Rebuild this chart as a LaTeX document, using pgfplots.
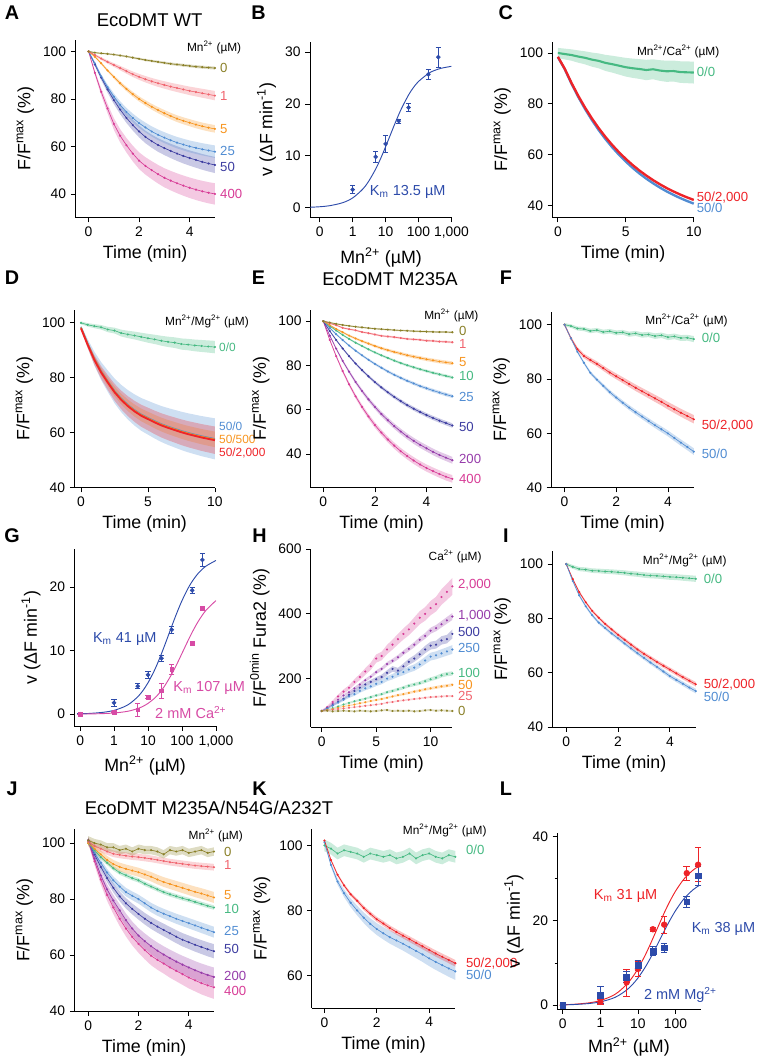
\documentclass[border=0pt]{standalone}
\usepackage{pgfplots}
\pgfplotsset{compat=1.18}
\usepackage{pgfplotstable}
\usepgfplotslibrary{fillbetween}
\usepackage{fontspec}
\setmainfont{Liberation Sans}

\definecolor{cOl}{RGB}{138,128,40}
\definecolor{cSa}{RGB}{240,100,110}
\definecolor{cOr}{RGB}{247,148,30}
\definecolor{cGr}{RGB}{70,185,130}
\definecolor{cLb}{RGB}{80,140,210}
\definecolor{cIn}{RGB}{60,60,160}
\definecolor{cPu}{RGB}{150,60,170}
\definecolor{cMa}{RGB}{215,60,150}
\definecolor{cRe}{RGB}{238,35,40}
\definecolor{cFb}{RGB}{45,75,170}
\definecolor{cFm}{RGB}{215,75,165}

\newcommand{\ftick}{\fontsize{10.5}{12}\selectfont}
\newcommand{\flab}{\fontsize{13.5}{15}\selectfont}
\newcommand{\ftitle}{\fontsize{14}{16}\selectfont}
\newcommand{\fletter}{\fontsize{15}{17}\selectfont\bfseries}
\newcommand{\fcurve}{\fontsize{10}{11}\selectfont}
\newcommand{\fhead}{\fontsize{9}{10}\selectfont}
\newcommand{\fkm}{\fontsize{11}{12}\selectfont}

\pgfplotsset{
  pan/.style={scale only axis, anchor=south west, axis lines=left,
    axis line style={-, line width=0.6pt}, tick style={black, line width=0.6pt},
    tick align=outside, major tick length=3.5pt, minor tick length=2pt,
    tick label style={font=\ftick}, label style={font=\flab},
    /pgf/number format/assume math mode=true, clip=false},
  tr/.style={line width=0.5pt, mark=*, mark size=0.55pt},
  trH/.style={only marks, mark=*, mark size=0.6pt},
  trC/.style={line width=1.8pt},
  trD/.style={line width=1.1pt},
}
\tikzset{fc/.style={anchor=west, font=\fcurve, inner sep=0pt},
         fh/.style={anchor=east, font=\fhead, inner sep=0pt}}

% band + trace: table, column, colour, constant error, error per unit of change, id, style
\newcommand{\trace}[7]{%
  \addplot[draw=none, name path=#6u, forget plot] table[x=t, y expr=\thisrow{#2}+#4+#5*abs(\thisrow{#2}-100)]{#1};
  \addplot[draw=none, name path=#6l, forget plot] table[x=t, y expr=\thisrow{#2}-#4-#5*abs(\thisrow{#2}-100)]{#1};
  \addplot[fill=#3, fill opacity=0.28, draw=none, forget plot] fill between[of=#6u and #6l];
  \addplot[#3, #7, forget plot] table[x=t, y=#2]{#1};}

\pgfplotstableread{
t a0 a1 a5 a25 a50 a400
0 100 100 100 100 100 100
0.25 99.5 98.5 97.8 95 94.5 91
0.5 99.2 97 95 89.5 89 83
0.75 99 95.6 92 85 84 76
1 98.7 94.3 89.3 81 79.5 69.5
1.25 98.3 93 86.6 77.5 75.5 64.5
1.5 97.9 91.7 84.2 74.5 72 60.5
1.75 97.4 90.4 82 72 69 57
2 96.9 89.3 80 69.8 66.3 54
2.25 96.4 88.3 78.3 68 64 51.8
2.5 96 87.4 76.7 66.3 62.2 50
2.75 95.6 86.6 75.3 64.9 60.6 48.3
3 95.2 85.9 74 63.7 59.3 46.8
3.25 94.8 85.2 72.8 62.6 58.1 45.6
3.5 94.5 84.6 71.7 61.6 57 44.5
3.75 94.2 84 70.8 60.8 56 43.5
4 93.9 83.4 70 60 55.1 42.6
4.25 93.6 82.9 69.2 59.4 54.3 41.8
4.5 93.4 82.4 68.5 58.8 53.5 41.1
4.75 93.2 81.9 67.9 58.3 52.8 40.5
5 93 81.4 67.4 57.8 52.2 40
}\tA

\pgfplotstableread{
x y e
1 3.5 0.8
5 9.8 1.0
10 12.3 1.6
25 16.7 0.4
50 19.3 0.8
200 25.7 1.0
400 29.0 1.9
}\tBp
\pgfplotstableread{
x y
0.05 0.102
0.1 0.203
0.2 0.403
0.5 0.986
1 1.903
2 3.561
3 5.018
5 7.459
7 9.424
10 11.745
15 14.526
20 16.478
30 19.034
50 21.732
70 23.138
100 24.317
200 25.855
300 26.411
500 26.874
1000 27.232
}\tBf

\pgfplotstableread{
t g b r
0 100 98.4 98.5
0.5 99.6 93.69 93.84
1 99.2 87.95 88.24
1.5 98.6 82.72 83.14
2 98.1 77.96 78.50
2.5 97.4 73.65 74.29
3 96.9 69.71 70.45
3.5 96.1 66.14 66.97
4 95.6 62.89 63.80
4.5 95.0 59.94 60.92
5 94.4 57.26 58.30
5.5 94.0 54.82 55.92
6 93.7 52.59 53.75
6.5 93.3 50.57 51.78
7 93.6 48.74 49.99
7.5 93.1 47.07 48.36
8 92.8 45.54 46.87
8.5 92.9 44.17 45.53
9 92.5 42.91 44.30
9.5 92.4 41.77 43.19
10 92.3 40.72 42.17
}\tC

\pgfplotstableread{
t g b o r
0 100 98.5 98.3 98
0.5 99.3 92.5 92.3 92
1 98.8 87 86.8 86.5
1.5 98.4 82.5 82.3 82
2 97.6 78.8 78.6 78.3
2.5 97.2 75.3 75.1 74.8
3 96.3 72.5 72.3 72
3.5 95.8 70.2 70 69.7
4 95.4 68.3 68.1 67.8
4.5 94.9 66.7 66.5 66.2
5 94.4 65.5 65.3 65
5.5 94 64.3 64.1 63.8
6 93.5 63.2 63 62.7
6.5 93.1 62.3 62.1 61.8
7 92.8 61.5 61.3 61
7.5 92.3 60.7 60.5 60.2
8 92.1 60 59.8 59.5
8.5 91.8 59.4 59.2 58.9
9 91.6 58.8 58.6 58.3
9.5 91.4 58.3 58.1 57.8
10 91.2 57.8 57.6 57.3
}\tD

\pgfplotstableread{
t e0 e1 e5 e10 e25 e50 e200 e400
0 100 100 100 100 100 100 100 100
0.25 99.4 99.0 98.2 97.8 97.0 95.6 93.5 91.6
0.5 98.8 98.2 96.5 95.8 94.1 91.5 87.6 84.2
0.75 98.3 97.0 95.0 93.8 91.5 87.7 82.1 77.5
1 97.9 96.4 93.5 92.0 89.0 84.2 77.2 71.5
1.25 97.5 95.9 92.2 90.3 86.7 80.9 72.6 66.1
1.5 97.2 95.1 91.0 88.8 84.6 77.9 68.5 61.3
1.75 96.9 94.6 89.9 87.3 82.6 75.1 64.7 57.0
2 96.6 94.0 88.8 85.9 80.7 72.5 61.3 53.1
2.25 96.4 93.4 87.8 84.6 79.0 70.1 58.1 49.7
2.5 96.2 93.1 86.9 83.4 77.3 67.9 55.3 46.6
2.75 96.0 92.8 86.1 82.2 75.8 65.8 52.6 43.8
3 95.8 92.4 85.4 81.1 74.4 63.9 50.2 41.3
3.25 95.7 92.0 84.6 80.1 73.1 62.1 48.0 39.1
3.5 95.5 91.8 84.0 79.2 71.9 60.5 46.0 37.1
3.75 95.4 91.6 83.4 78.3 70.7 59.0 44.2 35.3
4 95.3 91.2 82.8 77.5 69.7 57.6 42.6 33.7
4.25 95.2 91.1 82.3 76.7 68.7 56.3 41.0 32.3
4.5 95.1 90.8 81.8 76.0 67.8 55.1 39.6 31.0
4.75 95.1 90.7 81.4 75.3 66.9 54.0 38.4 29.8
5 95.0 90.5 81.0 74.6 66.1 52.9 37.2 28.8
}\tE

\pgfplotstableread{
t g r b
0 100 100 100
0.25 99.5 95 95
0.5 98.6 91 90
0.75 98.4 88.5 86
1 97.7 87 82.3
1.25 98.0 85.6 79.8
1.5 97.3 84 77.5
1.75 97.6 82.4 75.2
2 97.0 81 73.2
2.25 97.2 79.6 71.3
2.5 96.5 78.2 69.5
2.75 96.8 76.8 67.8
3 96.2 75.5 66.2
3.25 96.4 74.2 64.6
3.5 95.8 72.9 63
3.75 96.1 71.6 61.5
4 95.4 70.2 60
4.25 95.7 68.9 58.3
4.5 95.1 67.6 56.6
4.75 95.2 66.4 55
5 94.7 65.2 53.3
}\tF

\pgfplotstableread{
x y e
0.1 0 0.1
1 1.8 0.6
5 4.4 0.4
10 6.2 0.5
25 8.8 0.5
50 13.3 0.5
200 19.5 0.5
400 24.3 1.0
}\tGb
\pgfplotstableread{
x y e
0.1 0 0
1 0.3 0.1
5 0.7 1.0
10 2.7 0.2
25 3.7 1.2
50 7.1 0.8
200 11.1 0.3
400 16.7 0.2
}\tGm
\pgfplotstableread{
x b m
0.1 0.0613 0.0185
0.2 0.122 0.037
0.5 0.304 0.092
1 0.6 0.183
2 1.172 0.363
3 1.718 0.54
5 2.739 0.884
7 3.675 1.216
10 4.941 1.692
15 6.75 2.434
20 8.262 3.118
30 10.648 4.336
50 13.846 6.306
70 15.892 7.831
100 17.872 9.565
150 19.791 11.556
200 20.913 12.899
300 22.17 14.594
500 23.29 16.310
1000 24.207 17.886
}\tGf

\pgfplotstableread{
t h0 h25 h50 h100 h250 h500 h1000 h2000
0 100 100 100 100 100 100 100 100
0.5 101 102 103 104 108 108 110 112
1 99 104 106 109 117 118 122 128
1.5 100 106 110 114 126 128 135 145
2 101 108 114 120 135 138 148 160
2.5 100 110 117 125 145 150 158 172
3 99 112 120 130 152 162 170 190
3.5 101 114 124 134 162 172 182 205
4 100 116 127 138 170 182 195 222
4.5 99 118 131 143 176 190 206 238
5 100 120 134 148 184 198 220 262
5.5 102 122 137 152 190 205 230 270
6 103 126 141 158 200 218 245 290
6.5 100 128 145 162 206 230 255 305
7 101 131 149 167 214 225 266 322
7.5 100 133 152 172 220 238 280 338
8 101 135 156 178 228 252 292 352
8.5 99 137 160 182 234 262 305 370
9 100 139 163 186 244 275 320 388
9.5 102 141 167 192 256 290 332 400
10 103 143 170 198 268 302 348 418
10.5 101 144 173 203 272 305 356 430
11 102 145 176 210 278 318 368 452
11.5 101 146 178 214 284 322 380 468
12 100 146 181 216 290 338 392 485
}\tH

\pgfplotstableread{
t g r b
0 100 100 100
0.25 99 94.5 93.8
0.5 98.2 89.7 88.5
0.75 98 86 84.5
1 97.6 82.8 81.2
1.25 97.5 80.3 78.5
1.5 97.3 78 76.5
1.75 97.2 76 74.5
2 97 74 72.7
2.25 96.8 72.2 70.8
2.5 96.5 70.4 69
2.75 96.3 68.6 67.2
3 96 67 65.5
3.25 95.8 65.5 63.8
3.5 95.7 64 62.2
3.75 95.5 62.6 60.5
4 95.3 61.2 58.8
4.25 95.2 59.8 57.4
4.5 95 58.4 56
4.75 94.8 57.1 54.6
5 94.6 55.8 53.3
}\tI

\pgfplotstableread{
t j0 j1 j5 j10 j25 j50 j200 j400
0 101 100.5 100 100 100.5 101 101 101
0.25 100 99 98 97.5 96.5 96 94.5 93.5
0.5 99.5 98 96 95 93 91.5 88.5 87
0.75 98.5 97 94 93 89.5 87.5 83.5 81.5
1 98.5 96.2 92.5 91 86.7 84 79.5 77
1.25 97.5 95.8 91.5 89.5 84.5 81 76 73
1.5 98 95.5 90.8 88.5 82.5 78.5 72.5 69.5
1.75 97 95.2 90.2 87.5 81.2 76.5 69.5 66.5
2 98 95 89.6 86.7 80 74.7 67 64
2.25 97.5 94.7 88.8 85.5 78.5 73 65 61.8
2.5 97.5 94.4 88 84.5 77 71.5 63.2 59.8
2.75 97 94 87 83.5 75.8 70.2 61.6 58.3
3 96 93.6 86.1 82.5 74.8 69 60.2 57
3.25 97.5 93.2 85.4 81.7 73.9 67.8 58.9 55.6
3.5 97 92.9 84.7 81 73 66.6 57.7 54.4
3.75 97.5 92.6 84 80.3 72.2 65.5 56.6 53.2
4 96.5 92.3 83.3 79.7 71.4 64.6 55.6 52
4.25 97 92 82.6 79 70.6 63.7 54.6 51
4.5 97.5 91.8 82 78.3 69.8 62.9 53.7 50
4.75 96.5 91.6 81.3 77.6 69 62.1 52.9 49.2
5 97 91.4 80.6 77 68.2 61.4 52.2 48.5
}\tJ

\pgfplotstableread{
t g r b
0 100 101.5 101
0.25 99 95.5 94
0.5 97.5 91 88.9
0.75 98.5 87.7 85.3
1 98 85 82.4
1.25 97.5 83 80
1.5 96.5 80.8 77.8
1.75 97.5 79 75.9
2 97 77.3 74.3
2.25 96.5 76 73
2.5 97 74.6 71.8
2.75 96 73.4 70.8
3 96.5 72.3 69.8
3.25 97.5 71.2 68.7
3.5 96 70.1 67.6
3.75 97 69 66.5
4 97.5 67.9 65.3
4.25 96.5 66.8 64.2
4.5 96 65.8 63.2
4.75 97 64.8 62.2
5 96.5 63.8 61.3
}\tK

\pgfplotstableread{
x y e
0.1 0 0
1 0.8 0.5
5 5.4 3.2
10 8.6 1.8
25 18.0 0.5
50 19.1 2.0
200 31.3 1.6
400 33.3 4.0
}\tLr
\pgfplotstableread{
x y e
0.1 0 0
1 2.4 2.0
5 6.6 1.3
10 9.5 1.2
25 12.8 1.1
50 13.6 1.0
200 24.5 1.3
400 30.7 2.3
}\tLb
\pgfplotstableread{
x r b
0.1 0.114 0.0811
0.2 0.227 0.162
0.5 0.562 0.401
1 1.106 0.792
2 2.145 1.545
3 3.124 2.261
5 4.917 3.593
7 6.521 4.807
10 8.634 6.438
15 11.543 8.745
20 13.882 10.655
30 17.410 13.632
50 21.852 17.557
70 24.535 20.028
100 27.023 22.391
150 29.337 24.654
200 30.649 25.966
300 32.085 27.426
420 32.967 28.336
}\tLf

\begin{document}
\begin{tikzpicture}
\path (0pt,0pt) rectangle (563.25pt,-795.75pt);

% panel letters and titles, placed in pixel units of the reference
\begin{scope}[x=0.75pt, y=-0.75pt]
\foreach \l/\px/\py in {A/8/13, B/257/13, C/507/13, D/8/281, E/257/281, F/507/281,
                        G/8/541, H/258/541, I/507/541, J/8/797, K/258/797, L/507/797}
  \node[font=\fletter] at (\px,\py) {\l};
\node[font=\ftitle] at (147,20) {EcoDMT WT};
\node[font=\ftitle] at (390,282) {EcoDMT M235A};
\node[font=\ftitle] at (207,817) {EcoDMT M235A/N54G/A232T};
\end{scope}

% A
\begin{axis}[pan, at={(54pt,-165pt)}, width=105.75pt, height=135pt,
  xmin=-0.52, xmax=5, ymin=30, ymax=105, xtick={0,2,4}, ytick={40,60,80,100},
  xlabel={Time (min)}, ylabel={F/F\textsuperscript{max} (\%)}]
\trace{\tA}{a400}{cMa}{0.3}{0.07}{A6}{tr}
\trace{\tA}{a50}{cIn}{0.3}{0.065}{A5}{tr}
\trace{\tA}{a25}{cLb}{0.3}{0.055}{A4}{tr}
\trace{\tA}{a5}{cOr}{0.3}{0.04}{A3}{tr}
\trace{\tA}{a1}{cSa}{0.3}{0.09}{A2}{tr}
\trace{\tA}{a0}{cOl}{0.3}{0.05}{A1}{tr}
\node[fc,text=cOl] at (axis cs:5.2,93) {0};
\node[fc,text=cSa] at (axis cs:5.2,81.2) {1};
\node[fc,text=cOr] at (axis cs:5.2,67.3) {5};
\node[fc,text=cLb] at (axis cs:5.2,58.3) {25};
\node[fc,text=cIn] at (axis cs:5.2,51.5) {50};
\node[fc,text=cMa] at (axis cs:5.2,40) {400};
\node[fh] at (axis cs:6.05,101.8) {Mn\textsuperscript{2+} (µM)};
\end{axis}

% B
\begin{axis}[pan, at={(231.75pt,-165pt)}, width=108pt, height=133.5pt,
  xmode=log, xmin=0.05, xmax=1070, ymin=-1.9, ymax=32,
  xtick={0.1,1,10,100,1000}, xticklabels={0,1,10,100,{1,000}}, xminorticks=false,
  ytick={0,10,20,30},
  xlabel={Mn\textsuperscript{2+} (µM)}, ylabel={v (ΔF min\textsuperscript{-1})}]
\addplot[cFb, line width=0.7pt, smooth] table[x=x, y=y]{\tBf};
\addplot[cFb, only marks, mark=*, mark size=1.5pt,
  error bars/.cd, y dir=both, y explicit, error bar style={line width=0.6pt},
  error mark options={rotate=90, mark size=2pt, line width=0.6pt}]
  table[x=x, y=y, y error=e]{\tBp};
\node[text=cFb, font=\fkm] at (axis cs:47,3) {K\textsubscript{m} 13.5 µM};
\end{axis}

% C
\begin{axis}[pan, at={(415.5pt,-165pt)}, width=107.25pt, height=133.5pt,
  xmin=-0.41, xmax=10, ymin=35.2, ymax=104.5, xtick={0,5,10}, ytick={40,60,80,100},
  xlabel={Time (min)}, ylabel={F/F\textsuperscript{max} (\%)}]
\trace{\tC}{g}{cGr}{2}{0.3}{C1}{line width=1.6pt}
\trace{\tC}{b}{cLb}{0.2}{0}{C2}{trC}
\trace{\tC}{r}{cRe}{0.2}{0}{C3}{trC}
\node[fc,text=cGr] at (axis cs:10.2,92.5) {0/0};
\node[fc,text=cRe] at (axis cs:10.2,43.3) {50/2,000};
\node[fc,text=cLb] at (axis cs:10.2,38.9) {50/0};
\node[fh] at (axis cs:11.9,100.5) {Mn\textsuperscript{2+}/Ca\textsuperscript{2+} (µM)};
\end{axis}

% D
\begin{axis}[pan, at={(53.25pt,-369.75pt)}, width=106.5pt, height=135pt,
  xmin=-0.49, xmax=10, ymin=40, ymax=104.8, xtick={0,5,10}, ytick={40,60,80,100},
  xlabel={Time (min)}, ylabel={F/F\textsuperscript{max} (\%)}]
\trace{\tD}{b}{cLb}{0.3}{0.17}{D1}{trD}
\trace{\tD}{o}{cOr}{0.3}{0.06}{D2}{trD}
\trace{\tD}{r}{cRe}{0.3}{0.11}{D3}{line width=1.4pt}
\trace{\tD}{g}{cGr}{0.5}{0.2}{D4}{tr}
\node[fc,font=\fhead,text=cGr] at (axis cs:10.3,91.3) {0/0};
\node[fc,font=\fhead,text=cLb] at (axis cs:10.3,62.5) {50/0};
\node[fc,font=\fhead,text=cOr] at (axis cs:10.3,57.6) {50/500};
\node[fc,font=\fhead,text=cRe] at (axis cs:10.3,52.7) {50/2,000};
\node[fh] at (axis cs:12.55,100.5) {Mn\textsuperscript{2+}/Mg\textsuperscript{2+} (µM)};
\end{axis}

% E
\begin{axis}[pan, at={(232.5pt,-369.75pt)}, width=107.25pt, height=135pt,
  xmin=-0.48, xmax=5, ymin=24.8, ymax=105.2, xtick={0,2,4}, ytick={40,60,80,100},
  xlabel={Time (min)}, ylabel={F/F\textsuperscript{max} (\%)}]
\trace{\tE}{e400}{cMa}{0.3}{0.02}{E8}{tr}
\trace{\tE}{e200}{cPu}{0.3}{0.02}{E7}{tr}
\trace{\tE}{e50}{cIn}{0.3}{0.015}{E6}{tr}
\trace{\tE}{e25}{cLb}{0.3}{0.015}{E5}{tr}
\trace{\tE}{e10}{cGr}{0.3}{0.015}{E4}{tr}
\trace{\tE}{e5}{cOr}{0.3}{0.03}{E3}{tr}
\trace{\tE}{e1}{cSa}{0.3}{0.02}{E2}{tr}
\trace{\tE}{e0}{cOl}{0.3}{0.02}{E1}{tr}
\node[fc,text=cOl] at (axis cs:5.25,95.8) {0};
\node[fc,text=cSa] at (axis cs:5.25,89.8) {1};
\node[fc,text=cOr] at (axis cs:5.25,81.7) {5};
\node[fc,text=cGr] at (axis cs:5.25,75.4) {10};
\node[fc,text=cLb] at (axis cs:5.25,66) {25};
\node[fc,text=cIn] at (axis cs:5.25,52.4) {50};
\node[fc,text=cPu] at (axis cs:5.25,37.8) {200};
\node[fc,text=cMa] at (axis cs:5.25,28.9) {400};
\node[fh] at (axis cs:6.02,102.6) {Mn\textsuperscript{2+} (µM)};
\end{axis}

% F
\begin{axis}[pan, at={(414.75pt,-369.75pt)}, width=108pt, height=133.5pt,
  xmin=-0.51, xmax=5, ymin=40, ymax=104.8, xtick={0,2,4}, ytick={40,60,80,100},
  xlabel={Time (min)}, ylabel={F/F\textsuperscript{max} (\%)}]
\trace{\tF}{g}{cGr}{0.6}{0.1}{F1}{tr}
\trace{\tF}{r}{cRe}{0.5}{0.03}{F2}{tr}
\trace{\tF}{b}{cLb}{0.3}{0.02}{F3}{tr}
\node[fc,text=cGr] at (axis cs:5.3,95.2) {0/0};
\node[fc,text=cRe] at (axis cs:5.3,63) {50/2,000};
\node[fc,text=cLb] at (axis cs:5.3,52.6) {50/0};
\node[fh] at (axis cs:6.32,101.4) {Mn\textsuperscript{2+}/Ca\textsuperscript{2+} (µM)};
\end{axis}

% G
\begin{axis}[pan, at={(53.25pt,-550.5pt)}, width=107.25pt, height=134.25pt,
  xmode=log, xmin=0.068, xmax=1000, ymin=-1.9, ymax=26,
  xtick={0.1,1,10,100,1000}, xticklabels={0,1,10,100,{1,000}}, xminorticks=false,
  ytick={0,10,20},
  xlabel={Mn\textsuperscript{2+} (µM)}, ylabel={v (ΔF min\textsuperscript{-1})}]
\addplot[cFb, line width=0.7pt, smooth] table[x=x, y=b]{\tGf};
\addplot[cFm, line width=0.7pt, smooth] table[x=x, y=m]{\tGf};
\addplot[cFb, only marks, mark=*, mark size=1.5pt,
  error bars/.cd, y dir=both, y explicit, error bar style={line width=0.6pt},
  error mark options={rotate=90, mark size=2pt, line width=0.6pt}]
  table[x=x, y=y, y error=e]{\tGb};
\addplot[cFm, only marks, mark=square*, mark size=1.4pt,
  error bars/.cd, y dir=both, y explicit, error bar style={line width=0.6pt},
  error mark options={rotate=90, mark size=2pt, line width=0.6pt}]
  table[x=x, y=y, y error=e]{\tGm};
\node[text=cFb, font=\fkm] at (axis cs:2.07,11.8) {K\textsubscript{m} 41 µM};
\node[text=cFm, font=\fkm] at (axis cs:631,4.2) {K\textsubscript{m} 107 µM};
\node[text=cFm, font=\fkm] at (axis cs:182,0.3) {2 mM Ca\textsuperscript{2+}};
\end{axis}

% H
\begin{axis}[pan, at={(232.5pt,-551.25pt)}, width=107.25pt, height=135pt,
  xmin=-1, xmax=12, ymin=50, ymax=600, xtick={0,5,10}, ytick={200,400,600},
  xlabel={Time (min)}, ylabel={F/F\textsuperscript{0min} Fura2 (\%)}]
\trace{\tH}{h2000}{cMa}{3}{0.06}{H8}{trH}
\trace{\tH}{h1000}{cPu}{2}{0.03}{H7}{trH}
\trace{\tH}{h500}{cIn}{2}{0.05}{H6}{trH}
\trace{\tH}{h250}{cLb}{2}{0.06}{H5}{trH}
\trace{\tH}{h100}{cGr}{2}{0.04}{H4}{trH}
\trace{\tH}{h50}{cOr}{1.5}{0.04}{H3}{trH}
\trace{\tH}{h25}{cSa}{1.5}{0.03}{H2}{trH}
\trace{\tH}{h0}{cOl}{3}{0}{H1}{trH}
\node[fc,text=cMa] at (axis cs:12.5,490) {2,000};
\node[fc,text=cPu] at (axis cs:12.5,395) {1,000};
\node[fc,text=cIn] at (axis cs:12.5,344) {500};
\node[fc,text=cLb] at (axis cs:12.5,296) {250};
\node[fc,text=cGr] at (axis cs:12.5,219) {100};
\node[fc,text=cOr] at (axis cs:12.5,182) {50};
\node[fc,text=cSa] at (axis cs:12.5,145) {25};
\node[fc,text=cOl] at (axis cs:12.5,99) {0};
\node[fh] at (axis cs:14.7,576) {Ca\textsuperscript{2+} (µM)};
\end{axis}

% I
\begin{axis}[pan, at={(415.5pt,-551.25pt)}, width=108.75pt, height=133.5pt,
  xmin=-0.54, xmax=5, ymin=40, ymax=104.8, xtick={0,2,4}, ytick={40,60,80,100},
  xlabel={Time (min)}, ylabel={F/F\textsuperscript{max} (\%)}]
\trace{\tI}{g}{cGr}{0.6}{0.1}{I1}{tr}
\trace{\tI}{r}{cRe}{0.4}{0.01}{I2}{tr}
\trace{\tI}{b}{cLb}{0.4}{0.01}{I3}{tr}
\node[fc,text=cGr] at (axis cs:5.3,94.5) {0/0};
\node[fc,text=cRe] at (axis cs:5.3,55.8) {50/2,000};
\node[fc,text=cLb] at (axis cs:5.3,51.3) {50/0};
\node[fh] at (axis cs:6.2,101.2) {Mn\textsuperscript{2+}/Mg\textsuperscript{2+} (µM)};
\end{axis}

% J
\begin{axis}[pan, at={(53.25pt,-766.5pt)}, width=105.75pt, height=138pt,
  xmin=-0.55, xmax=5, ymin=40, ymax=105, xtick={0,2,4}, ytick={40,60,80,100},
  xlabel={Time (min)}, ylabel={F/F\textsuperscript{max} (\%)}]
\trace{\tJ}{j400}{cMa}{1}{0.06}{J8}{tr}
\trace{\tJ}{j200}{cPu}{1}{0.05}{J7}{tr}
\trace{\tJ}{j50}{cIn}{1}{0.04}{J6}{tr}
\trace{\tJ}{j25}{cLb}{1}{0.03}{J5}{tr}
\trace{\tJ}{j10}{cGr}{0.8}{0}{J4}{tr}
\trace{\tJ}{j5}{cOr}{1.2}{0.04}{J3}{tr}
\trace{\tJ}{j1}{cSa}{1.2}{0}{J2}{tr}
\trace{\tJ}{j0}{cOl}{1.5}{0}{J1}{tr}
\node[fc,text=cOl] at (axis cs:5.4,96.7) {0};
\node[fc,text=cSa] at (axis cs:5.4,92.1) {1};
\node[fc,text=cOr] at (axis cs:5.4,81.3) {5};
\node[fc,text=cGr] at (axis cs:5.4,76.4) {10};
\node[fc,text=cLb] at (axis cs:5.4,68.8) {25};
\node[fc,text=cIn] at (axis cs:5.4,62.1) {50};
\node[fc,text=cPu] at (axis cs:5.4,52.7) {200};
\node[fc,text=cMa] at (axis cs:5.4,47.3) {400};
\node[fh] at (axis cs:6.16,102.6) {Mn\textsuperscript{2+} (µM)};
\end{axis}

% K
\begin{axis}[pan, at={(233.25pt,-764.25pt)}, width=108.75pt, height=135.75pt,
  xmin=-0.48, xmax=5, ymin=50, ymax=105, xtick={0,2,4}, ytick={60,80,100},
  xlabel={Time (min)}, ylabel={F/F\textsuperscript{max} (\%)}]
\trace{\tK}{g}{cGr}{1.8}{0}{K1}{tr}
\trace{\tK}{b}{cLb}{0.3}{0.06}{K2}{tr}
\trace{\tK}{r}{cRe}{0.3}{0.02}{K3}{tr}
\node[fc,text=cGr] at (axis cs:5.4,98.5) {0/0};
\node[fc,text=cRe] at (axis cs:5.4,63.7) {50/2,000};
\node[fc,text=cLb] at (axis cs:5.4,60.2) {50/0};
\node[fh] at (axis cs:6.2,104.5) {Mn\textsuperscript{2+}/Mg\textsuperscript{2+} (µM)};
\end{axis}

% L
\begin{axis}[pan, at={(419.25pt,-765pt)}, width=108.75pt, height=133.5pt,
  xmode=log, xmin=0.071, xmax=470, ymin=-0.94, ymax=40.8,
  xtick={0.1,1,10,100}, xticklabels={0,1,10,100}, xminorticks=false,
  ytick={0,20,40}, minor ytick={10,30},
  xlabel={Mn\textsuperscript{2+} (µM)}, ylabel={v (ΔF min\textsuperscript{-1})}]
\addplot[cRe, line width=0.7pt, smooth] table[x=x, y=r]{\tLf};
\addplot[cFb, line width=0.7pt, smooth] table[x=x, y=b]{\tLf};
\addplot[cRe, only marks, mark=*, mark size=2.2pt,
  error bars/.cd, y dir=both, y explicit, error bar style={line width=0.6pt},
  error mark options={rotate=90, mark size=2.5pt, line width=0.6pt}]
  table[x=x, y=y, y error=e]{\tLr};
\addplot[cFb, only marks, mark=square*, mark size=2.2pt,
  error bars/.cd, y dir=both, y explicit, error bar style={line width=0.6pt},
  error mark options={rotate=90, mark size=2.5pt, line width=0.6pt}]
  table[x=x, y=y, y error=e]{\tLb};
\node[text=cRe, font=\fkm] at (axis cs:4.69,26) {K\textsubscript{m} 31 µM};
\node[text=cFb, font=\fkm] at (axis cs:1900,18) {K\textsubscript{m} 38 µM};
\node[text=cFb, font=\fkm] at (axis cs:135,2.4) {2 mM Mg\textsuperscript{2+}};
\end{axis}
\end{tikzpicture}
\end{document}
